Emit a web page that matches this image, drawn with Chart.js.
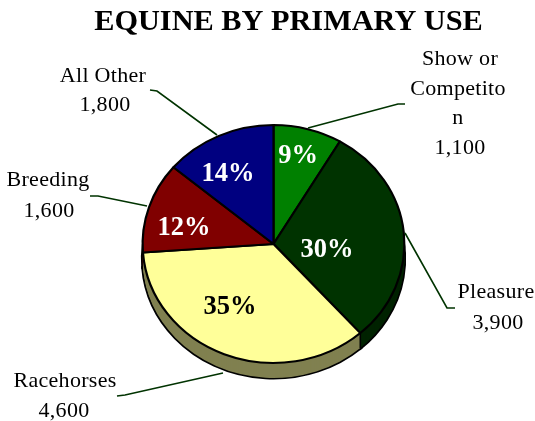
<!DOCTYPE html>
<html>
<head>
<meta charset="utf-8">
<style>
html,body{margin:0;padding:0;background:#fff;}
canvas{display:block;}
</style>
<script src="https://cdn.jsdelivr.net/npm/chart.js@4"></script>
</head>
<body>
<canvas id="c" width="535" height="421"></canvas>
<script>
const title = "EQUINE BY PRIMARY USE";
const categories = ["Show or Competition","Pleasure","Racehorses","Breeding","All Other"];
const values = [1100,3900,4600,1600,1800];
const percents = ["9%","30%","35%","12%","14%"];

const colors = ["#008000","#003300","#ffff99","#800000","#000080"];
const wallColors = ["#004000","#002200","#808050","#400000","#000040"];
const pctColors = ["#fff","#fff","#000","#fff","#fff"];
const squash = 120/132;
const depth = 15;

// where the texts sit, same order as categories
const pctPos = [[298,163],[327,257],[230,314],[184,235],[228,181]];
const nameLines = [
  [["Show or",460,65],["Competito",458,95],["n",458,124],["1,100",460,154]],
  [["Pleasure",496,298],["3,900",498,329]],
  [["Racehorses",65,387],["4,600",64,417]],
  [["Breeding",48,186],["1,600",49,217]],
  [["All Other",103,82],["1,800",105,111]]
];
const leaders = [
  [[405,104],[398,104],[308,128]],
  [[405,233],[447,308],[455,308]],
  [[117,396],[125,395],[223,373]],
  [[90,196],[98,196],[147,206]],
  [[150,90],[157,91],[217,135]]
];

function slicePath(ctx,a){
  ctx.beginPath();
  ctx.moveTo(a.x,a.y);
  ctx.arc(a.x,a.y,a.outerRadius,a.startAngle,a.endAngle);
  ctx.closePath();
}

function squashed(ctx,a,off,fn){
  ctx.save();
  ctx.translate(a.x,a.y+off);
  ctx.scale(1,squash);
  ctx.translate(-a.x,-a.y);
  fn();
  ctx.restore();
}

const piePlugin = {
  id:"pie3d",
  beforeDatasetsDraw(chart){
    const ctx = chart.ctx;
    const arcs = chart.getDatasetMeta(0).data;
    // outline of the bottom, then the side wall over it
    arcs.forEach(a=>squashed(ctx,a,depth,()=>{
      slicePath(ctx,a);
      ctx.strokeStyle="#000";
      ctx.lineWidth=3.5;
      ctx.stroke();
    }));
    for(let d=depth;d>=0;d--){
      arcs.forEach((a,i)=>squashed(ctx,a,d,()=>{
        slicePath(ctx,a);
        ctx.fillStyle=wallColors[i];
        ctx.fill();
      }));
    }
    // edge between the two visible walls
    const e = arcs[1];
    const ex = e.x+Math.cos(e.endAngle)*e.outerRadius;
    const ey = e.y+Math.sin(e.endAngle)*e.outerRadius*squash;
    ctx.beginPath();
    ctx.moveTo(ex,ey);
    ctx.lineTo(ex,ey+depth);
    ctx.strokeStyle="#000";
    ctx.lineWidth=1.5;
    ctx.stroke();
    const a0 = arcs[0];
    ctx.save();
    ctx.translate(a0.x,a0.y);
    ctx.scale(1,squash);
    ctx.translate(-a0.x,-a0.y);
  },
  afterDatasetsDraw(chart){
    const ctx = chart.ctx;
    ctx.restore();
    ctx.textAlign="center";
    ctx.textBaseline="alphabetic";

    ctx.fillStyle="#000";
    ctx.font="bold 30.3px 'Liberation Serif'";
    ctx.fillText(title,288.5,30);

    ctx.strokeStyle="#003300";
    ctx.lineWidth=1.6;
    leaders.forEach(l=>{
      ctx.beginPath();
      l.forEach((p,i)=>i?ctx.lineTo(p[0],p[1]):ctx.moveTo(p[0],p[1]));
      ctx.stroke();
    });

    ctx.font="22px 'Liberation Serif'";
    ctx.letterSpacing="0.3px";
    ctx.fillStyle="#000";
    nameLines.forEach(ls=>ls.forEach(t=>ctx.fillText(t[0],t[1],t[2])));

    ctx.font="bold 26.5px 'Liberation Serif'";
    ctx.letterSpacing="0px";
    percents.forEach((p,i)=>{
      ctx.fillStyle=pctColors[i];
      ctx.fillText(p,pctPos[i][0],pctPos[i][1]);
    });
  }
};

new Chart(document.getElementById("c").getContext("2d"),{
  type:"pie",
  data:{
    labels:categories,
    datasets:[{data:values,backgroundColor:colors,borderColor:"#000",borderWidth:2.2}]
  },
  options:{
    responsive:false,
    animation:false,
    layout:{padding:{left:141,right:129,top:112,bottom:45}},
    plugins:{legend:{display:false},tooltip:{enabled:false},title:{display:false}}
  },
  plugins:[piePlugin]
});
</script>
</body>
</html>
